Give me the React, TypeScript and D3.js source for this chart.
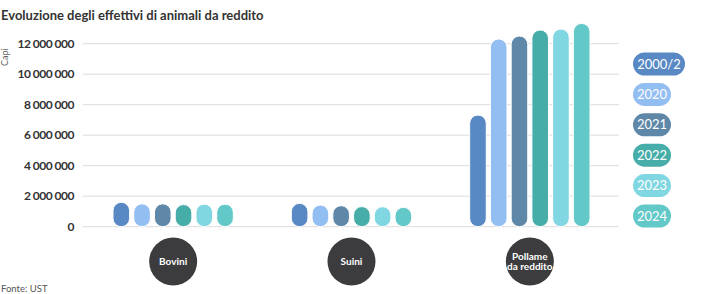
import React from "react";
import * as d3 from "d3";

const categories = ["Bovini", "Suini", "Pollame\nda reddito"];
const years = ["2000/2", "2020", "2021", "2022", "2023", "2024"];
const bovini = [1600000, 1500000, 1500000, 1450000, 1480000, 1480000];
const suini = [1530000, 1420000, 1380000, 1320000, 1310000, 1270000];
const pollame = [7320000, 12310000, 12500000, 12900000, 12960000, 13330000];
const seriesByCategory = [bovini, suini, pollame];
const yTicks = [0, 2000000, 4000000, 6000000, 8000000, 10000000, 12000000];
const colors = ["#5889c4", "#93bef2", "#5f88a8", "#47ada8", "#80d7e1", "#62c9c8"];

const W = 720;
const H = 294;
const font = "Lato, 'Open Sans', sans-serif";

export default function App() {
  const x0 = d3.scaleBand<string>().domain(categories).range([84, 619]).paddingInner(0).paddingOuter(0);
  const x1 = d3
    .scaleBand<string>()
    .domain(years)
    .range([29, x0.bandwidth() - 29])
    .paddingInner(0.2)
    .paddingOuter(0);
  const y = d3.scaleLinear().domain([0, 12000000]).range([226.7, 43.7]);
  const fmt = (v: number) => d3.format(",")(v).replace(/,/g, " ");
  const legendY = d3.scalePoint<string>().domain(years).range([64, 216]);

  return (
    <svg width={W} height={H} style={{ display: "block", position: "absolute", left: 0, top: 0 }}>
      <rect width={W} height={H} fill="#fff" />
      <text x={1} y={20} fontFamily={font} fontWeight={700} fontSize={13} fill="#333">
        Evoluzione degli effettivi di animali da reddito
      </text>
      <text
        transform={`translate(8,66) rotate(-90)`}
        fontFamily={font}
        fontSize={9}
        fill="#666"
      >
        Capi
      </text>
      {yTicks.map((t) => (
        <g key={t}>
          <line x1={83} x2={619} y1={y(t)} y2={y(t)} stroke="#dcdcdc" strokeWidth={1} />
          <text
            x={74}
            y={y(t)}
            dy="0.35em"
            textAnchor="end"
            fontFamily={font}
            fontWeight={700}
            fontSize={12}
            letterSpacing={-0.5}
            fill="#333"
          >
            {fmt(t)}
          </text>
        </g>
      ))}
      {categories.map((c, ci) => {
        const gx = x0(c)!;
        const cx = gx + x0.bandwidth() / 2;
        const lines = c.split("\n");
        return (
          <g key={c}>
            {seriesByCategory[ci].map((v, i) => {
              const bx = gx + x1(years[i])!;
              const top = y(v);
              const bottom = y(0);
              return (
                <rect
                  key={i}
                  x={bx}
                  y={top}
                  width={x1.bandwidth()}
                  height={bottom - top}
                  rx={x1.bandwidth() / 2}
                  ry={x1.bandwidth() / 2}
                  fill={colors[i]}
                  stroke="#fff"
                  strokeWidth={1}
                />
              );
            })}
            <circle cx={cx} cy={261.5} r={24} fill="#3c3c3e" />
            {lines.map((l, li) => (
              <text
                key={li}
                x={cx}
                y={261.5 + (li - (lines.length - 1) / 2) * 10.5}
                dy="0.35em"
                textAnchor="middle"
                fontFamily={font}
                fontWeight={700}
                fontSize={10}
                fill="#fff"
              >
                {l}
              </text>
            ))}
          </g>
        );
      })}
      {years.map((yr, i) => {
        const w = yr.length > 4 ? 52 : 38;
        const cy = legendY(yr)!;
        return (
          <g key={yr}>
            <rect x={633} y={cy - 11.5} width={w} height={23} rx={11.5} ry={11.5} fill={colors[i]} />
            <text
              x={633 + w / 2}
              y={cy}
              dy="0.36em"
              textAnchor="middle"
              fontFamily={font}
              fontSize={13}
              fill="#fff"
            >
              {yr}
            </text>
          </g>
        );
      })}
      <text x={1} y={292} fontFamily={font} fontSize={9.5} fill="#555">
        Fonte: UST
      </text>
    </svg>
  );
}
